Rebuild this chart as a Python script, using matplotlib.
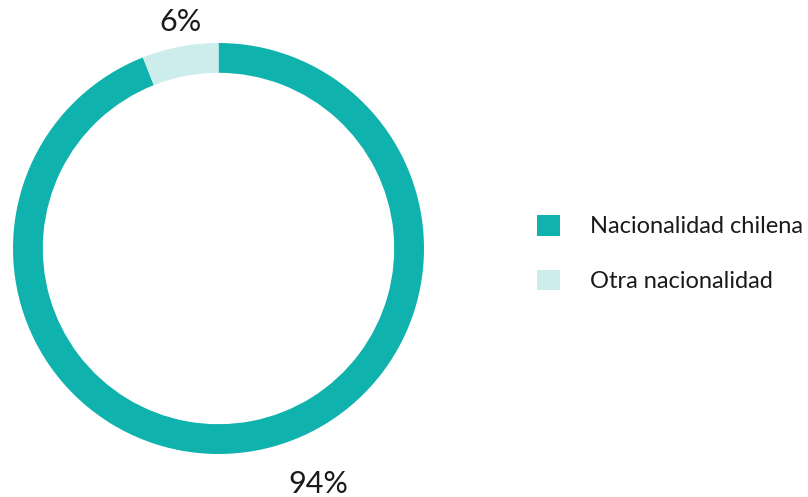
import matplotlib
matplotlib.use('Agg')
import matplotlib.pyplot as plt
from matplotlib.patches import Patch

labels = ['Nacionalidad chilena', 'Otra nacionalidad']
values = [94, 6]
pct_text = ['94%', '6%']
colors = ['#0fb2ac', '#cdecec']

W, H = 808, 497
CX, CY, R = 218.5, 248.5, 205.5   # ring centre / outer radius in px

plt.rcParams['font.family'] = ['Lato', 'DejaVu Sans']

fig = plt.figure(figsize=(W / 100, H / 100), dpi=100)
ax = fig.add_axes([0, 0, 1, 1])
ax.pie(values, colors=colors, startangle=90, counterclock=False,
       wedgeprops=dict(width=0.145, edgecolor='none'))
ax.set_xlim(-CX / R, (W - CX) / R)
ax.set_ylim(-(H - CY) / R, CY / R)
ax.set_aspect('equal')
ax.axis('off')

# percentage labels
ax.text(-0.185, 1.10, pct_text[1], fontsize=22, ha='center', va='center', color='#1a1a1a')
ax.text(0.485, -1.148, pct_text[0], fontsize=22, ha='center', va='center', color='#1a1a1a')

handles = [Patch(facecolor=c, edgecolor='none') for c in colors]
fig.legend(handles, labels, loc='upper left',
           bbox_to_anchor=(537 / W, 1 - 215 / H), frameon=False,
           fontsize=17, handlelength=0.97, handleheight=0.97,
           handletextpad=1.27, labelspacing=1.37, borderpad=0,
           borderaxespad=0, labelcolor='#1a1a1a')

fig.savefig('out.png', dpi=100, facecolor='white')
